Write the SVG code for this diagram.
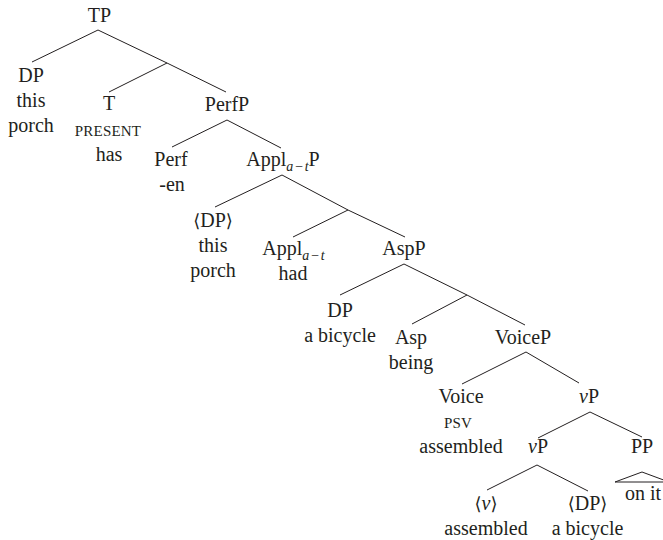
<svg xmlns="http://www.w3.org/2000/svg" width="663" height="540" viewBox="0 0 663 540" font-family="'Liberation Serif', 'Times New Roman', serif">
<style>
text{font-family:'Liberation Serif','Times New Roman',serif;font-size:20px;fill:#231f20;text-anchor:middle}
.sc{font-size:15px;letter-spacing:0.2px}
.sub{font-size:14px;font-style:italic}
.it{font-style:italic}
.br{font-family:'DejaVu Serif',serif;font-size:18px}
line,polyline{stroke:#231f20;stroke-width:1;fill:none}
</style>
<rect width="663" height="540" fill="#fff"/>
<g id="connectors">
<line x1="98" y1="30" x2="32" y2="62"/>
<line x1="98" y1="30" x2="167" y2="63"/>
<line x1="167" y1="63" x2="109" y2="92"/>
<line x1="167" y1="63" x2="226" y2="92"/>
<line x1="227" y1="120" x2="172" y2="147"/>
<line x1="227" y1="120" x2="281" y2="148"/>
<line x1="282" y1="175" x2="215" y2="207"/>
<line x1="282" y1="175" x2="348" y2="210"/>
<line x1="348" y1="210" x2="293" y2="237"/>
<line x1="348" y1="210" x2="405" y2="237"/>
<line x1="404" y1="264" x2="340" y2="295"/>
<line x1="404" y1="264" x2="467" y2="295"/>
<line x1="467" y1="295" x2="412" y2="324"/>
<line x1="467" y1="295" x2="525" y2="325"/>
<line x1="526" y1="352" x2="462" y2="384"/>
<line x1="526" y1="352" x2="579" y2="383"/>
<line x1="590" y1="412" x2="538" y2="438"/>
<line x1="590" y1="412" x2="642" y2="437"/>
<line x1="537" y1="465" x2="487" y2="490"/>
<line x1="537" y1="465" x2="588" y2="491"/>
</g>
<g id="TP"><text x="99.5" y="22">TP</text></g>
<g id="DP1"><text x="31" y="82">DP</text><text x="31" y="107">this</text><text x="31" y="132">porch</text></g>
<g id="T"><text x="109" y="110">T</text><text class="sc" x="108" y="136">PRESENT</text><text x="109" y="161">has</text></g>
<g id="PerfP"><text x="227" y="111">PerfP</text></g>
<g id="Perf"><text x="171" y="166">Perf</text><text x="172" y="191">-en</text></g>
<g id="ApplP"><text x="283" y="166">Appl<tspan class="sub" dy="5">a</tspan><tspan class="sub" dx="1">−</tspan><tspan class="sub" dx="1">t</tspan><tspan dy="-5">P</tspan></text></g>
<g id="DP2"><text x="213" y="227"><tspan class="br">⟨</tspan>DP<tspan class="br">⟩</tspan></text><text x="213" y="252">this</text><text x="213" y="277">porch</text></g>
<g id="Appl"><text x="293.5" y="255">Appl<tspan class="sub" dy="5">a</tspan><tspan class="sub" dx="1">−</tspan><tspan class="sub" dx="1">t</tspan></text><text x="293" y="280">had</text></g>
<g id="AspP"><text x="404" y="255">AspP</text></g>
<g id="DP3"><text x="340" y="317">DP</text><text x="340" y="342">a bicycle</text></g>
<g id="Asp"><text x="411" y="344">Asp</text><text x="411" y="369">being</text></g>
<g id="VoiceP"><text x="523" y="344">VoiceP</text></g>
<g id="Voice"><text x="461" y="403">Voice</text><text class="sc" x="458" y="428">PSV</text><text x="461" y="453">assembled</text></g>
<g id="vP1"><text x="589" y="403"><tspan class="it">v</tspan>P</text></g>
<g id="vP2"><text x="538" y="453"><tspan class="it">v</tspan>P</text></g>
<g id="PP"><text x="642" y="453">PP</text><polyline points="615,482 642,472 669,482 615,482"/><text x="643" y="500">on it</text></g>
<g id="v"><text x="486" y="510"><tspan class="br">⟨</tspan><tspan class="it">v</tspan><tspan class="br">⟩</tspan></text><text x="486" y="535">assembled</text></g>
<g id="DP4"><text x="587.5" y="510"><tspan class="br">⟨</tspan>DP<tspan class="br">⟩</tspan></text><text x="587.5" y="535">a bicycle</text></g>
</svg>
